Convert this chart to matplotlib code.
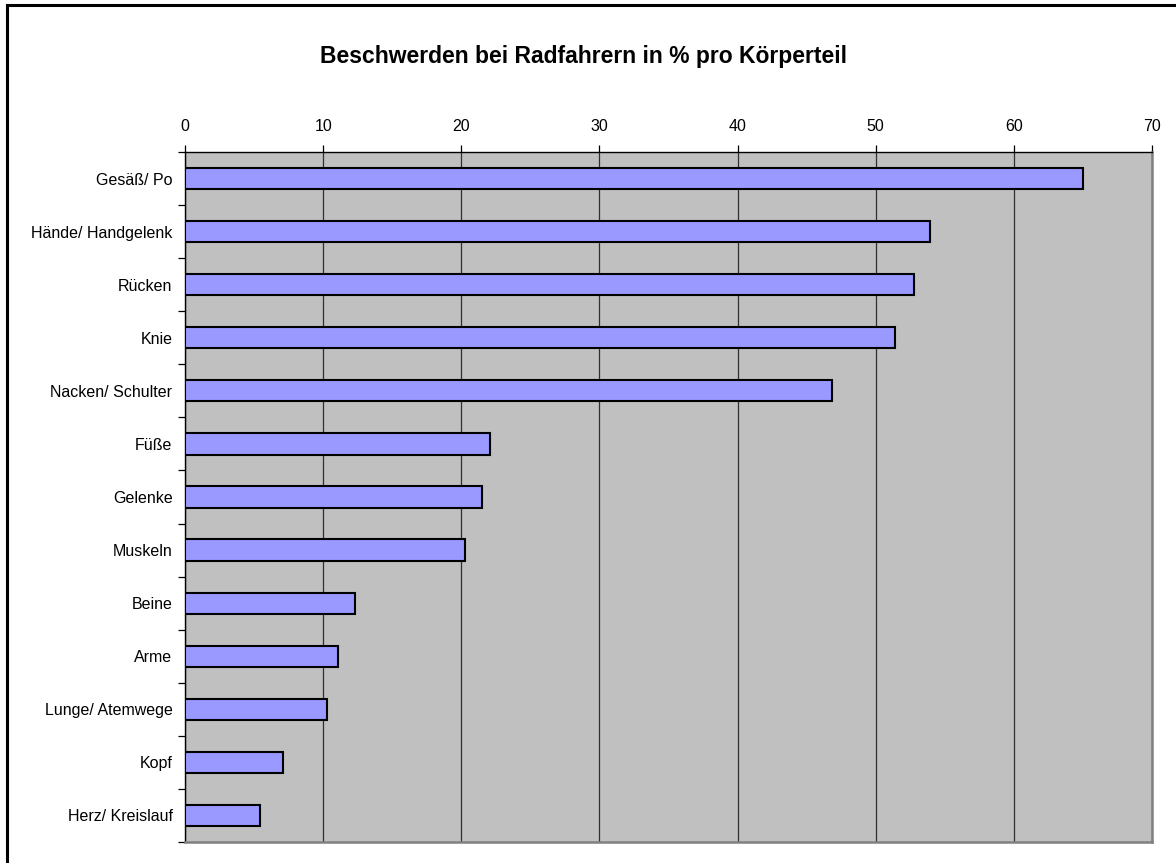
import matplotlib
matplotlib.use("Agg")
import matplotlib.pyplot as plt
from matplotlib.lines import Line2D
import numpy as np

plt.rcParams['font.family'] = ['Liberation Sans', 'DejaVu Sans']

title = "Beschwerden bei Radfahrern in % pro Körperteil"
categories = [
    "Gesäß/ Po", "Hände/ Handgelenk", "Rücken", "Knie", "Nacken/ Schulter",
    "Füße", "Gelenke", "Muskeln", "Beine", "Arme", "Lunge/ Atemwege",
    "Kopf", "Herz/ Kreislauf",
]
values = [65.0, 53.9, 52.8, 51.4, 46.8, 22.1, 21.5, 20.3, 12.3, 11.1, 10.3, 7.1, 5.4]
x_ticks = [0, 10, 20, 30, 40, 50, 60, 70]

W, H, DPI = 1176, 863, 100
fig = plt.figure(figsize=(W / DPI, H / DPI), dpi=DPI)
fig.patch.set_facecolor("white")

# outer chart frame (left and top edges visible)
fig.add_artist(Line2D([7 / W, 7 / W], [0, 1 - 5 / H], transform=fig.transFigure,
                      color="black", lw=2.2, solid_capstyle="projecting"))
fig.add_artist(Line2D([7 / W, 1], [1 - 5 / H, 1 - 5 / H], transform=fig.transFigure,
                      color="black", lw=2.2, solid_capstyle="projecting"))

left, right, top, bottom = 185, 1152, 152, 842
ax = fig.add_axes([left / W, (H - bottom) / H, (right - left) / W, (bottom - top) / H])
ax.set_facecolor("#C0C0C0")

y = np.arange(len(categories))
ax.barh(y, values, height=0.4, color="#9999FF", edgecolor="black", linewidth=1.5, zorder=3)

ax.set_xlim(0, 70)
ax.set_ylim(len(categories) - 0.5, -0.5)

ax.set_xticks(x_ticks)
ax.set_xticklabels([str(t) for t in x_ticks])
ax.xaxis.tick_top()
ax.tick_params(axis="x", which="major", direction="out", length=5, width=0.9,
               pad=8, labelsize=11.5, colors="black")
ax.grid(axis="x", color="#303030", linewidth=0.9, zorder=1)
ax.set_axisbelow(True)

ax.set_yticks(y)
ax.set_yticklabels(categories)
ax.set_yticks(np.arange(-0.5, len(categories), 1.0), minor=True)
ax.tick_params(axis="y", which="major", length=0, pad=9, labelsize=11.5)
ax.tick_params(axis="y", which="minor", direction="out", length=5, width=0.9)

for side in ("left", "top"):
    ax.spines[side].set_color("black")
    ax.spines[side].set_linewidth(1.0)
for side in ("right", "bottom"):
    ax.spines[side].set_color("#808080")
    ax.spines[side].set_linewidth(1.8)

fig.text(583 / W, 1 - 57 / H, title, ha="center", va="center",
         fontsize=16.5, fontweight="bold")

fig.savefig("out.png", dpi=DPI)
